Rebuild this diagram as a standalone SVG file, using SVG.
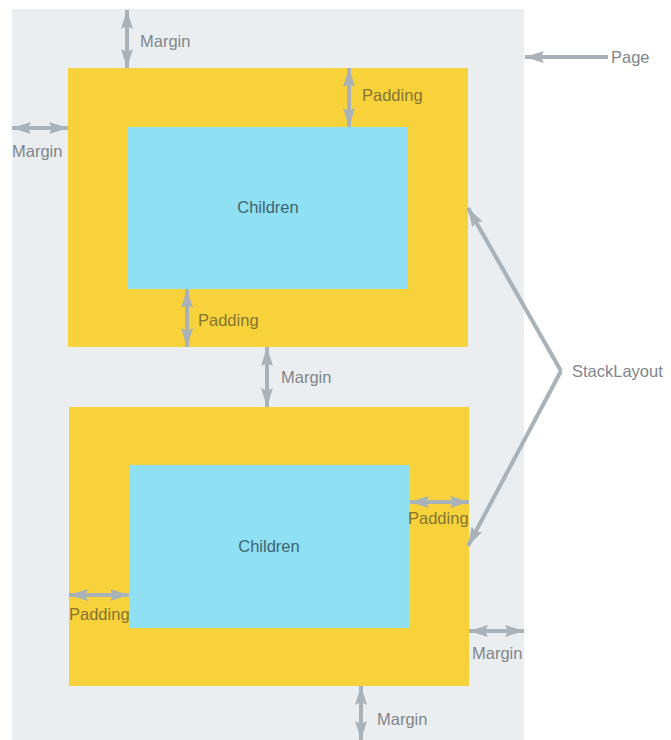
<svg xmlns="http://www.w3.org/2000/svg" width="671" height="740" viewBox="0 0 671 740">
  <style>
    .page { fill: #ebeef0; }
    .box { fill: #f8d23a; }
    .child { fill: #8fe0f3; }
    .arrow { fill: none; stroke: #a9b2b9; stroke-width: 4; marker-start: url(#head); marker-end: url(#head); }
    .single { fill: none; stroke: #a9b2b9; stroke-width: 4; marker-end: url(#head); }
    .lbl { font-family: "Liberation Sans", Arial, sans-serif; font-size: 16.5px; fill: #80868c; }
    .pad { font-family: "Liberation Sans", Arial, sans-serif; font-size: 16.5px; fill: #847533; }
    .kid { font-family: "Liberation Sans", Arial, sans-serif; font-size: 16.5px; fill: #3f6470; text-anchor: middle; }
  </style>
  <defs>
    <marker id="head" markerUnits="userSpaceOnUse" viewBox="0 0 19 12" markerWidth="19" markerHeight="12" refX="19" refY="6" orient="auto-start-reverse">
      <path d="M0,0 L19,6 L0,12 L3,6 z" fill="#a9b2b9"/>
    </marker>
  </defs>

  <!-- page surface -->
  <rect id="page" class="page" x="12" y="9" width="512" height="731"/>

  <!-- first stacked element -->
  <g id="element1">
    <rect class="box" x="68" y="68" width="400" height="279"/>
    <rect class="child" x="128" y="127" width="280" height="162"/>
    <text class="kid" x="268" y="213">Children</text>
  </g>

  <!-- second stacked element -->
  <g id="element2">
    <rect class="box" x="69" y="407" width="400" height="279"/>
    <rect class="child" x="130" y="465" width="280" height="163"/>
    <text class="kid" x="269" y="552">Children</text>
  </g>

  <!-- dimension arrows and callouts -->
  <g id="connectors">
    <path class="arrow" d="M127,10 V68"/>
    <path class="arrow" d="M12,128 H68"/>
    <path class="arrow" d="M349,68 V127"/>
    <path class="arrow" d="M187,289 V347"/>
    <path class="arrow" d="M267,347 V407"/>
    <path class="arrow" d="M410,502 H469"/>
    <path class="arrow" d="M69,595 H129"/>
    <path class="arrow" d="M469,631 H524"/>
    <path class="arrow" d="M361,686 V740"/>
    <path class="single" d="M608,57 H525"/>
    <path class="single" d="M561,371 L468,208"/>
    <path class="single" d="M561,371 L468,546"/>
  </g>

  <!-- labels -->
  <g id="labels">
    <text class="lbl" x="140" y="47">Margin</text>
    <text class="lbl" x="12" y="157">Margin</text>
    <text class="pad" x="362" y="101">Padding</text>
    <text class="pad" x="198" y="326">Padding</text>
    <text class="lbl" x="281" y="383">Margin</text>
    <text class="pad" x="408" y="524">Padding</text>
    <text class="pad" x="69" y="620">Padding</text>
    <text class="lbl" x="472" y="659">Margin</text>
    <text class="lbl" x="377" y="725">Margin</text>
    <text class="lbl" x="611" y="63">Page</text>
    <text class="lbl" x="572" y="377">StackLayout</text>
  </g>
</svg>
